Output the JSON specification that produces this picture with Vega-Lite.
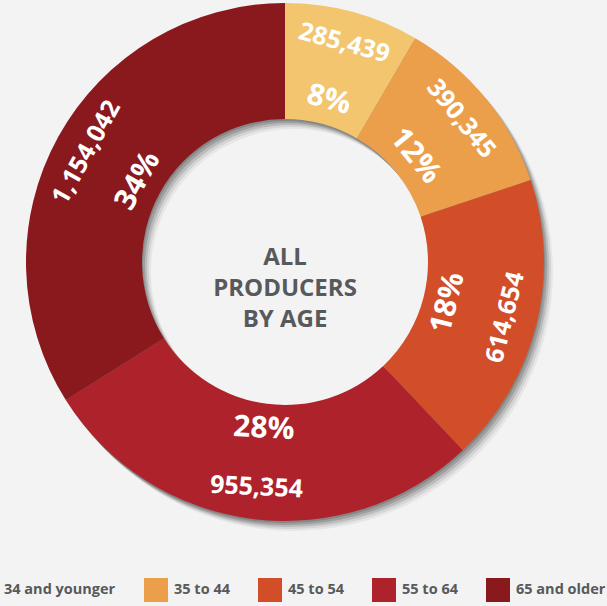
{
  "$schema": "https://vega.github.io/schema/vega-lite/v6.json",
  "width": 570,
  "height": 524,
  "autosize": {"type": "none"},
  "padding": {"left": 0, "top": 0, "right": 37, "bottom": 82},
  "background": "#f3f3f3",
  "config": {"view": {"stroke": null}, "font": "Open Sans"},
  "data": {
    "values": [
      {"age": "34 and younger", "producers": 285439, "share": 0.08},
      {"age": "35 to 44", "producers": 390345, "share": 0.12},
      {"age": "45 to 54", "producers": 614654, "share": 0.18},
      {"age": "55 to 64", "producers": 955354, "share": 0.28},
      {"age": "65 and older", "producers": 1154042, "share": 0.34}
    ]
  },
  "layer": [
    {
      "mark": {"type": "arc", "innerRadius": 143, "outerRadius": 259, "color": "#000000", "opacity": 0.05, "xOffset": 9, "yOffset": 10},
      "encoding": {"theta": {"field": "producers", "type": "quantitative", "stack": true}}
    },
    {
      "mark": {"type": "arc", "innerRadius": 143, "outerRadius": 259, "color": "#000000", "opacity": 0.08, "xOffset": 7, "yOffset": 8},
      "encoding": {"theta": {"field": "producers", "type": "quantitative", "stack": true}}
    },
    {
      "mark": {"type": "arc", "innerRadius": 143, "outerRadius": 259, "color": "#000000", "opacity": 0.12, "xOffset": 5, "yOffset": 6},
      "encoding": {"theta": {"field": "producers", "type": "quantitative", "stack": true}}
    },
    {
      "mark": {"type": "arc", "innerRadius": 143, "outerRadius": 259, "color": "#000000", "opacity": 0.15, "xOffset": 3, "yOffset": 4},
      "encoding": {"theta": {"field": "producers", "type": "quantitative", "stack": true}}
    },
    {
      "mark": {"type": "arc", "innerRadius": 143, "outerRadius": 259, "color": "#000000", "opacity": 0.15, "xOffset": 1, "yOffset": 2},
      "encoding": {"theta": {"field": "producers", "type": "quantitative", "stack": true}}
    },
    {
      "mark": {"type": "arc", "innerRadius": 143, "outerRadius": 259},
      "encoding": {
        "theta": {"field": "producers", "type": "quantitative", "stack": true},
        "color": {
          "field": "age",
          "type": "nominal",
          "scale": {
            "domain": ["34 and younger", "35 to 44", "45 to 54", "55 to 64", "65 and older"],
            "range": ["#F2C56E", "#EC9F4A", "#D24E29", "#AE232B", "#8A191D"]
          },
          "legend": {
            "orient": "none",
            "legendX": -26,
            "legendY": 578,
            "direction": "horizontal",
            "columns": 5,
            "title": null,
            "symbolType": "square",
            "symbolSize": 576,
            "symbolStrokeWidth": 0,
            "symbolOpacity": 1,
            "labelFont": "Open Sans",
            "labelFontWeight": "bold",
            "labelFontSize": 14.5,
            "labelColor": "#58595b",
            "labelOffset": 6,
            "columnPadding": 28,
            "padding": 0
          }
        }
      }
    },
    {
      "mark": {"type": "text", "radius": 227, "fontSize": 25, "fontWeight": "bold", "color": "#ffffff", "align": "center", "baseline": "middle"},
      "encoding": {
        "theta": {"field": "producers", "type": "quantitative", "stack": true},
        "detail": {"field": "age", "type": "nominal"},
        "text": {"field": "producers", "type": "quantitative", "format": ","},
        "angle": {
          "field": "age",
          "type": "nominal",
          "scale": {
            "type": "ordinal",
            "domain": ["34 and younger", "35 to 44", "45 to 54", "55 to 64", "65 and older"],
            "range": [15, 51, -76, 3, -61]
          },
          "legend": null
        }
      }
    },
    {
      "mark": {"type": "text", "radius": 168, "fontSize": 30, "fontWeight": "bold", "color": "#ffffff", "align": "center", "baseline": "middle"},
      "encoding": {
        "theta": {"field": "producers", "type": "quantitative", "stack": true},
        "detail": {"field": "age", "type": "nominal"},
        "text": {"field": "share", "type": "quantitative", "format": ".0%"},
        "angle": {
          "field": "age",
          "type": "nominal",
          "scale": {
            "type": "ordinal",
            "domain": ["34 and younger", "35 to 44", "45 to 54", "55 to 64", "65 and older"],
            "range": [15, 51, -76, 3, -61]
          },
          "legend": null
        }
      }
    },
    {
      "data": {"values": [{"title": ["ALL", "PRODUCERS", "BY AGE"]}]},
      "mark": {"type": "text", "fontSize": 24, "fontWeight": "bold", "color": "#58595b", "lineHeight": 31, "align": "center", "baseline": "middle", "dy": -4},
      "encoding": {"text": {"field": "title", "type": "nominal"}}
    }
  ]
}
